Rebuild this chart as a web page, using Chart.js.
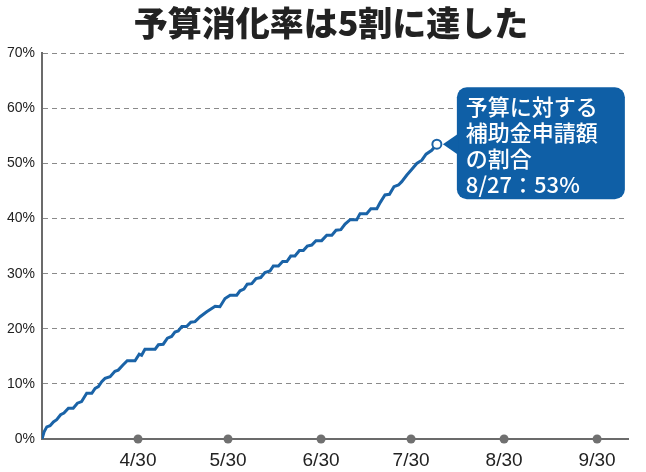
<!DOCTYPE html>
<html>
<head>
<meta charset="utf-8">
<script src="https://cdn.jsdelivr.net/npm/chart.js@4"></script>
<style>
  html, body { margin: 0; padding: 0; background: #fff; }
  #wrap { width: 646px; height: 472px; }
</style>
</head>
<body>
<div id="wrap"><canvas id="chart" width="646" height="472"></canvas></div>
<script>
// days counted from 3/30
let days = [-1, -0.3, 0.6, 1.7, 2.8, 3.9, 5.2, 6.3, 7.8, 9.4,
    10.8, 12.2, 13.9, 15.6, 16.7, 17.8, 18.9, 20, 21.7, 23.3,
    24.4, 25.9, 27.4, 30, 31.4, 32.2, 33.3, 36.7, 37.8, 39.4,
    40.8, 42.2, 43.3, 44.4, 45.6, 47.2, 48.6, 50, 51.7, 53.9,
    56.7, 58.3, 60, 61.7, 63.9, 65, 66.3, 67.4, 68.9, 70.3,
    71.9, 73.3, 75, 76.1, 77.8, 79.2, 80.6, 81.9, 83.3, 84.8,
    86.1, 87.4, 88.9, 90.3, 92.2, 93.9, 95.6, 97, 98.6, 100,
    101.7, 103.9, 105, 107.2, 108.6, 110.6, 111.7, 113.3, 114.8, 116.3,
    117.8, 118.9, 120.6, 122.2, 123.9, 125.6, 127, 128.9, 130.6];
let rates = [0, 1.3, 2.2, 2.4, 3.1, 3.5, 4.4, 4.7, 5.6, 5.6,
    6.5, 6.8, 8.3, 8.3, 9.2, 9.5, 10.4, 11.0, 11.3, 12.3,
    12.5, 13.4, 14.2, 14.2, 15.4, 15.2, 16.3, 16.3, 17.1, 17.2,
    18.3, 18.6, 19.4, 19.6, 20.4, 20.4, 21.2, 21.3, 22.2, 23.1,
    24.1, 24.0, 25.5, 26.1, 26.1, 26.9, 27.2, 28.1, 28.2, 29.1,
    29.3, 30.2, 30.5, 31.4, 31.4, 32.2, 32.2, 33.2, 33.2, 34.2,
    34.2, 35.0, 35.2, 36.0, 36.0, 37.0, 37.0, 37.9, 38.0, 39.0,
    39.8, 39.8, 40.9, 40.9, 41.8, 41.8, 42.9, 44.3, 44.4, 45.8,
    46.1, 46.7, 47.9, 48.9, 50.0, 50.6, 51.7, 52.4, 53.5];

let tickDays = [31, 61, 92, 122, 153, 184];
let tickLabels = ['4/30', '5/30', '6/30', '7/30', '8/30', '9/30'];

let titleText = '予算消化率は5割に達した';
let noteLines = ['予算に対する', '補助金申請額', 'の割合', '8/27：53%'];

let lineColor = '#1a63a7';
let boxColor = '#0f5fa6';

let points = days.map((d, i) => ({ x: d, y: rates[i] }));
let dots = tickDays.map(d => ({ x: d, y: 0 }));
let last = points.length - 1;

// heading, drawn by hand so it can sit a bit right of centre like the original
let titlePlugin = {
    id: 'heading',
    afterDraw(chart) {
        let ctx = chart.ctx;
        ctx.save();
        ctx.fillStyle = '#222';
        ctx.font = '900 34px "Noto Sans CJK JP", sans-serif';
        ctx.textAlign = 'center';
        ctx.textBaseline = 'middle';
        ctx.fillText(titleText, 331, 23);
        ctx.restore();
    }
};

// callout box next to the last point
let notePlugin = {
    id: 'note',
    afterDatasetsDraw(chart) {
        let ctx = chart.ctx;
        let p = chart.getDatasetMeta(0).data[last];
        let bx = p.x + 20, by = p.y - 57, bw = 168, bh = 112;
        ctx.save();
        ctx.fillStyle = boxColor;
        ctx.beginPath();
        ctx.roundRect(bx, by, bw, bh, 10);
        ctx.fill();
        ctx.beginPath();
        ctx.moveTo(p.x + 6, p.y);
        ctx.lineTo(bx + 2, p.y - 11);
        ctx.lineTo(bx + 2, p.y + 11);
        ctx.closePath();
        ctx.fill();
        ctx.fillStyle = '#fff';
        ctx.font = '500 22px "Noto Sans CJK JP", sans-serif';
        ctx.textBaseline = 'middle';
        noteLines.forEach((t, i) => {
            ctx.fillText(t, bx + 9, by + 19 + i * 26);
        });
        ctx.restore();
    }
};

let ctx = document.querySelector('#chart').getContext('2d');
const chart = new Chart(ctx, {
    type: 'scatter',
    data: {
        datasets: [{
            data: points,
            showLine: true,
            borderColor: lineColor,
            borderWidth: 3,
            tension: 0,
            pointRadius: c => c.dataIndex === last ? 4.5 : 0,
            pointBorderWidth: 2,
            pointBorderColor: lineColor,
            pointBackgroundColor: '#fff'
        }, {
            data: dots,
            showLine: false,
            pointRadius: 4.5,
            pointBorderWidth: 0,
            pointBackgroundColor: '#707070',
            clip: false
        }]
    },
    options: {
        responsive: false,
        animation: false,
        events: [],
        layout: { padding: { top: 53.3, right: 18, bottom: 0, left: 0 } },
        plugins: {
            legend: { display: false },
            tooltip: { enabled: false },
            title: { display: false }
        },
        scales: {
            x: {
                type: 'linear',
                min: -1,
                max: 194.3,
                afterBuildTicks: s => { s.ticks = tickDays.map(v => ({ value: v })); },
                afterFit: s => { s.height = 33; },
                ticks: {
                    padding: 10,
                    color: '#222',
                    font: { family: '"Liberation Sans", Arial, sans-serif', size: 19 },
                    callback: v => tickLabels[tickDays.indexOf(v)]
                },
                grid: { display: false, drawTicks: false },
                border: { display: true, color: '#6b6b6b', width: 2 }
            },
            y: {
                min: 0,
                max: 70,
                afterFit: s => { s.width = 42; },
                ticks: {
                    stepSize: 10,
                    padding: 7,
                    color: '#222',
                    font: { family: '"Liberation Sans", Arial, sans-serif', size: 14 },
                    callback: v => v + '%'
                },
                grid: { color: '#8a8a8a', lineWidth: 1, drawTicks: false },
                border: { display: true, color: '#6b6b6b', width: 2, dash: [5, 4] }
            }
        }
    },
    plugins: [titlePlugin, notePlugin]
});
</script>
</body>
</html>
